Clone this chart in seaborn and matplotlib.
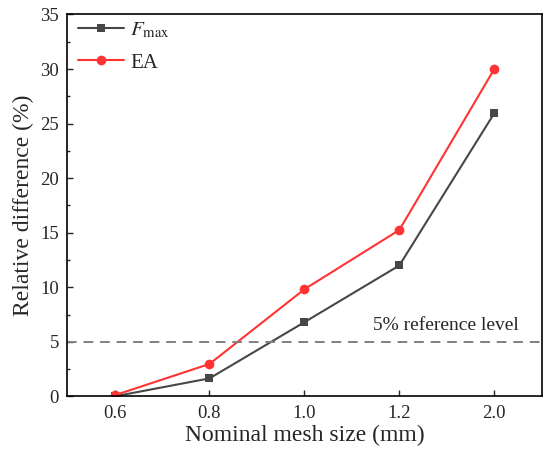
import numpy as np
import pandas as pd
import matplotlib
matplotlib.use('Agg')
import matplotlib.pyplot as plt
import seaborn as sns
from matplotlib.ticker import MultipleLocator

meshSizes = ['0.6', '0.8', '1.0', '1.2', '2.0']
fmaxDiff  = [0.0, 1.65, 6.8, 12.0, 25.95]
eaDiff    = [0.1, 2.97, 9.82, 15.25, 30.0]
refLevel  = 5.0

if __name__ == "__main__":

    sns.set_style('ticks')
    plt.rcParams['font.family'] = ['Liberation Serif', 'DejaVu Serif']
    plt.rcParams['mathtext.fontset'] = 'stix'

    d = pd.DataFrame({'pos': list(range(len(meshSizes))) * 2,
                      'diff': fmaxDiff + eaDiff,
                      'series': ['F'] * len(meshSizes) + ['EA'] * len(meshSizes)})

    fig, ax = plt.subplots(figsize=(5.5, 4.53), dpi=100)
    sns.lineplot(data=d[d.series == 'F'], x='pos', y='diff', color='#474747',
                 marker='s', markersize=6, markeredgewidth=0, linewidth=1.5, ax=ax)
    sns.lineplot(data=d[d.series == 'EA'], x='pos', y='diff', color='#ff3333',
                 marker='o', markersize=7, markeredgewidth=0, linewidth=1.5, ax=ax)

    ax.axhline(refLevel, color='#808080', linestyle=(0, (5, 3.5)), linewidth=1.4)
    ax.text(4.26, refLevel + 0.7, '5% reference level', ha='right', va='bottom', fontsize=14)

    h1, = ax.plot([], [], color='#474747', marker='s', markersize=6, markeredgewidth=0, linewidth=1.5)
    h2, = ax.plot([], [], color='#ff3333', marker='o', markersize=7, markeredgewidth=0, linewidth=1.5)
    ax.legend([h1, h2], [r'$F_{\rm max}$', 'EA'], loc='upper left', bbox_to_anchor=(0.006, 1.005),
              frameon=False, fontsize=15, handlelength=2.2, handletextpad=0.3,
              borderaxespad=0.3, borderpad=0.1, labelspacing=0.6)

    ax.set_xlim(-0.5, 4.5)
    ax.set_ylim(0, 35)
    ax.set_xticks(range(len(meshSizes)))
    ax.set_xticklabels(meshSizes)
    ax.yaxis.set_major_locator(MultipleLocator(5))
    ax.yaxis.set_minor_locator(MultipleLocator(2.5))
    ax.tick_params(axis='both', which='both', direction='in', labelsize=13.5)
    ax.tick_params(which='major', length=4, width=1, pad=6)
    ax.tick_params(which='minor', length=2.5, width=1)
    for s in ax.spines.values():
        s.set_linewidth(1.2)
        s.set_color('black')

    ax.set_xlabel('Nominal mesh size (mm)', fontsize=17, labelpad=2)
    ax.set_ylabel('Relative difference (%)', fontsize=17, labelpad=4)

    fig.subplots_adjust(left=0.122, right=0.985, top=0.968, bottom=0.125)
    plt.savefig('out.png')
    plt.close()
